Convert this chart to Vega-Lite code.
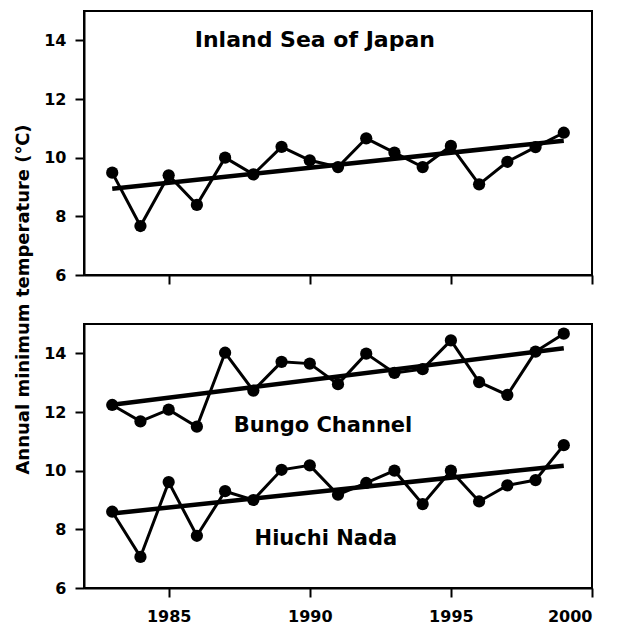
{
  "$schema": "https://vega.github.io/schema/vega-lite/v6.json",
  "padding": {"left": 13, "top": 10, "right": 5, "bottom": 0},
  "bounds": "flush",
  "spacing": 49,
  "config": {
    "view": {"stroke": "black", "strokeWidth": 2},
    "font": "DejaVu Sans",
    "axis": {
      "grid": false,
      "domainColor": "black",
      "domainWidth": 2,
      "tickColor": "black",
      "tickWidth": 2,
      "tickSize": 9,
      "labelFont": "DejaVu Sans",
      "labelFontWeight": "bold",
      "labelFontSize": 16,
      "labelColor": "black",
      "titleFont": "DejaVu Sans",
      "titleFontWeight": "bold",
      "titleColor": "black"
    }
  },
  "datasets": {
    "inland": [
      {"year": 1983, "temp": 9.49},
      {"year": 1984, "temp": 7.67},
      {"year": 1985, "temp": 9.40},
      {"year": 1986, "temp": 8.39},
      {"year": 1987, "temp": 10.00},
      {"year": 1988, "temp": 9.43},
      {"year": 1989, "temp": 10.37},
      {"year": 1990, "temp": 9.91},
      {"year": 1991, "temp": 9.68},
      {"year": 1992, "temp": 10.66},
      {"year": 1993, "temp": 10.17},
      {"year": 1994, "temp": 9.68},
      {"year": 1995, "temp": 10.40},
      {"year": 1996, "temp": 9.09},
      {"year": 1997, "temp": 9.86},
      {"year": 1998, "temp": 10.36},
      {"year": 1999, "temp": 10.85}
    ],
    "inlandTrend": [
      {"year": 1983, "temp": 8.94},
      {"year": 1999, "temp": 10.58}
    ],
    "inlandLabel": [
      {"year": 1990.18, "temp": 14.0, "label": "Inland Sea of Japan"}
    ],
    "bottom": [
      {"series": "Bungo Channel", "year": 1983, "temp": 12.24},
      {"series": "Bungo Channel", "year": 1984, "temp": 11.68},
      {"series": "Bungo Channel", "year": 1985, "temp": 12.08},
      {"series": "Bungo Channel", "year": 1986, "temp": 11.50},
      {"series": "Bungo Channel", "year": 1987, "temp": 14.02},
      {"series": "Bungo Channel", "year": 1988, "temp": 12.73},
      {"series": "Bungo Channel", "year": 1989, "temp": 13.71},
      {"series": "Bungo Channel", "year": 1990, "temp": 13.65},
      {"series": "Bungo Channel", "year": 1991, "temp": 12.95},
      {"series": "Bungo Channel", "year": 1992, "temp": 13.99},
      {"series": "Bungo Channel", "year": 1993, "temp": 13.33},
      {"series": "Bungo Channel", "year": 1994, "temp": 13.46},
      {"series": "Bungo Channel", "year": 1995, "temp": 14.44},
      {"series": "Bungo Channel", "year": 1996, "temp": 13.02},
      {"series": "Bungo Channel", "year": 1997, "temp": 12.58},
      {"series": "Bungo Channel", "year": 1998, "temp": 14.06},
      {"series": "Bungo Channel", "year": 1999, "temp": 14.67},
      {"series": "Hiuchi Nada", "year": 1983, "temp": 8.60},
      {"series": "Hiuchi Nada", "year": 1984, "temp": 7.06},
      {"series": "Hiuchi Nada", "year": 1985, "temp": 9.61},
      {"series": "Hiuchi Nada", "year": 1986, "temp": 7.78},
      {"series": "Hiuchi Nada", "year": 1987, "temp": 9.30},
      {"series": "Hiuchi Nada", "year": 1988, "temp": 9.00},
      {"series": "Hiuchi Nada", "year": 1989, "temp": 10.03},
      {"series": "Hiuchi Nada", "year": 1990, "temp": 10.18},
      {"series": "Hiuchi Nada", "year": 1991, "temp": 9.18},
      {"series": "Hiuchi Nada", "year": 1992, "temp": 9.58},
      {"series": "Hiuchi Nada", "year": 1993, "temp": 10.00},
      {"series": "Hiuchi Nada", "year": 1994, "temp": 8.86},
      {"series": "Hiuchi Nada", "year": 1995, "temp": 10.00},
      {"series": "Hiuchi Nada", "year": 1996, "temp": 8.95},
      {"series": "Hiuchi Nada", "year": 1997, "temp": 9.50},
      {"series": "Hiuchi Nada", "year": 1998, "temp": 9.68},
      {"series": "Hiuchi Nada", "year": 1999, "temp": 10.87}
    ],
    "bottomTrend": [
      {"series": "Bungo Channel", "year": 1983, "temp": 12.25},
      {"series": "Bungo Channel", "year": 1999, "temp": 14.17},
      {"series": "Hiuchi Nada", "year": 1983, "temp": 8.54},
      {"series": "Hiuchi Nada", "year": 1999, "temp": 10.17}
    ],
    "bottomLabel": [
      {"year": 1990.47, "temp": 11.51, "label": "Bungo Channel"},
      {"year": 1990.57, "temp": 7.66, "label": "Hiuchi Nada"}
    ]
  },
  "vconcat": [
    {
      "width": 508,
      "height": 264,
      "encoding": {
        "x": {
          "field": "year",
          "type": "quantitative",
          "scale": {"domain": [1982, 2000], "nice": false, "zero": false},
          "axis": {"title": null, "values": [1985, 1990, 1995, 2000], "labels": false}
        },
        "y": {
          "field": "temp",
          "type": "quantitative",
          "scale": {"domain": [6, 15], "nice": false, "zero": false},
          "axis": {"title": null, "values": [6, 8, 10, 12, 14], "labelPadding": 9}
        }
      },
      "layer": [
        {
          "data": {"name": "inland"},
          "mark": {"type": "line", "color": "black", "strokeWidth": 3}
        },
        {
          "data": {"name": "inland"},
          "mark": {"type": "point", "filled": true, "color": "black", "opacity": 1, "size": 150}
        },
        {
          "data": {"name": "inlandTrend"},
          "mark": {"type": "line", "color": "black", "strokeWidth": 4.5}
        },
        {
          "data": {"name": "inlandLabel"},
          "mark": {"type": "text", "font": "DejaVu Sans", "fontWeight": "bold", "fontSize": 22, "color": "black", "align": "center", "baseline": "middle"},
          "encoding": {"text": {"field": "label"}}
        }
      ]
    },
    {
      "width": 508,
      "height": 264,
      "encoding": {
        "x": {
          "field": "year",
          "type": "quantitative",
          "scale": {"domain": [1982, 2000], "nice": false, "zero": false},
          "axis": {"title": null, "values": [1985, 1990, 1995, 2000], "format": "d", "labelPadding": 11}
        },
        "y": {
          "field": "temp",
          "type": "quantitative",
          "scale": {"domain": [6, 15], "nice": false, "zero": false},
          "axis": {
            "title": "Annual minimum temperature (℃)",
            "titleFontSize": 18,
            "titleY": -25,
            "titlePadding": 11,
            "values": [6, 8, 10, 12, 14],
            "labelPadding": 9
          }
        }
      },
      "layer": [
        {
          "data": {"name": "bottom"},
          "mark": {"type": "line", "color": "black", "strokeWidth": 3},
          "encoding": {"detail": {"field": "series"}}
        },
        {
          "data": {"name": "bottom"},
          "mark": {"type": "point", "filled": true, "color": "black", "opacity": 1, "size": 150}
        },
        {
          "data": {"name": "bottomTrend"},
          "mark": {"type": "line", "color": "black", "strokeWidth": 4.5},
          "encoding": {"detail": {"field": "series"}}
        },
        {
          "data": {"name": "bottomLabel"},
          "mark": {"type": "text", "font": "DejaVu Sans", "fontWeight": "bold", "fontSize": 21, "color": "black", "align": "center", "baseline": "middle"},
          "encoding": {"text": {"field": "label"}}
        }
      ]
    }
  ]
}
